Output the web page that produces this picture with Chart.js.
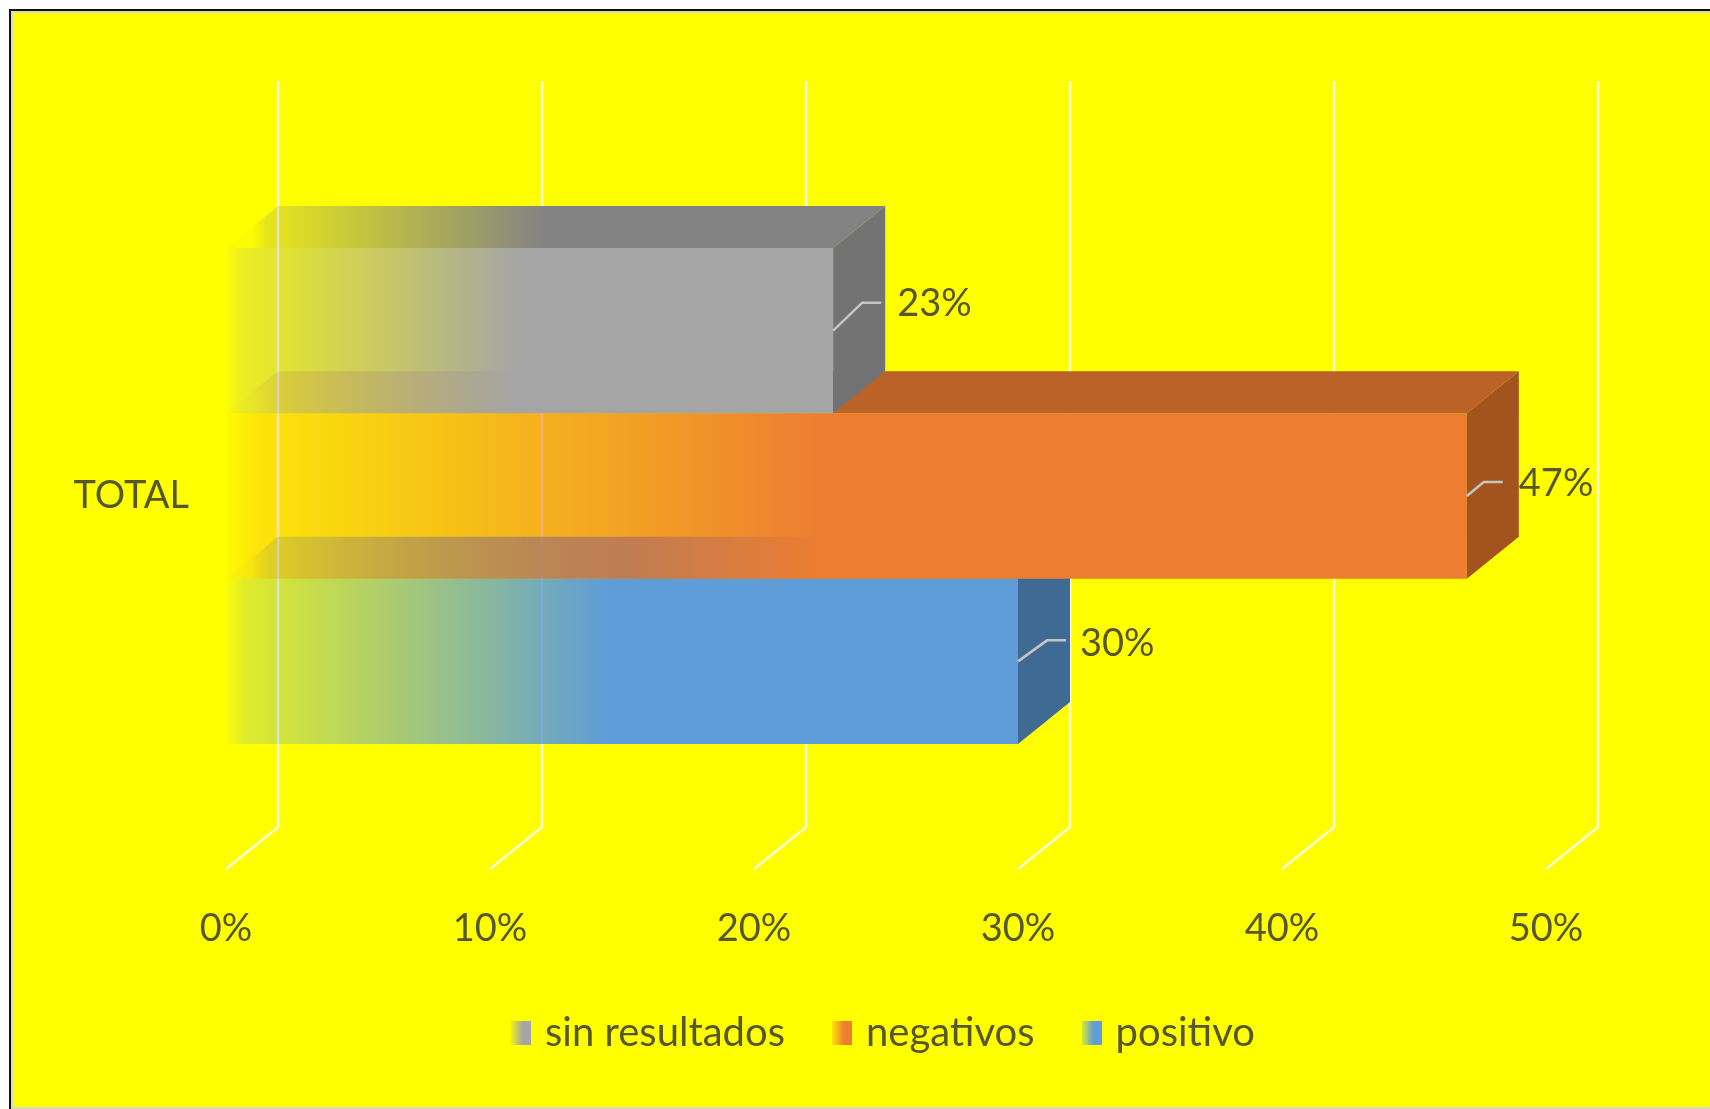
<!DOCTYPE html>
<html>
<head>
<meta charset="utf-8">
<script src="https://cdn.jsdelivr.net/npm/chart.js@4.4.1/dist/chart.umd.min.js"></script>
<style>
  html, body { margin: 0; padding: 0; background: #fff; width: 1710px; height: 1109px; overflow: hidden; }
  #frame {
    position: absolute; left: 9px; top: 9px; width: 1800px; height: 1102px;
    box-sizing: border-box; border: 2px solid #111; background: #ffff00;
    box-shadow: inset 0 0 0 2px #d9d9c4;
  }
  #c { position: absolute; left: 0; top: 0; }
</style>
</head>
<body>
<div id="frame"></div>
<canvas id="c" width="1710" height="1109"></canvas>
<script>
// Data
const categories = ['TOTAL'];
const seriesNames = ['sin resultados', 'negativos', 'positivo'];
const sinResultados = [23];
const negativos = [47];
const positivo = [30];
const xTickValues = [0, 10, 20, 30, 40, 50];

// Look
const FONT = 'Lato';
const TEXT = '#57572a';
const GRID = 'rgba(255,255,228,0.95)';
const LEADER = '#c6c6c0';
const DX = 52, DY = 42;          // depth offset of the 3-D box
const FADE = 0.48;               // share of each bar that fades in from the left

// per-series colours and value-label placement (leader bend dx/dy, text dx/dy)
const palette = [
  { front: '165,165,165', top: '131,131,131', side: '115,115,115', bend: [29, 28], text: [64, 27] },
  { front: '237,125,49',  top: '186,98,40',   side: '163,84,30',   bend: [17, 14], text: [52, 12] },
  { front: '94,157,215',  top: '73,123,170',  side: '62,106,148',  bend: [29, 21], text: [62, 18] }
];

function fadeFill(chart, value, rgb, shift) {
  const xs = chart.scales.x;
  if (!xs || !chart.chartArea) return `rgb(${rgb})`;
  const x0 = xs.getPixelForValue(0) + shift;
  const x1 = xs.getPixelForValue(value * FADE) + shift;
  const g = chart.ctx.createLinearGradient(x0, 0, x1, 0);
  g.addColorStop(0, `rgba(${rgb},0.03)`);
  g.addColorStop(0.05, `rgba(${rgb},0.2)`);
  g.addColorStop(1, `rgba(${rgb},1)`);
  return g;
}

function swatch(rgb) {
  const c = document.createElement('canvas');
  c.width = 20; c.height = 24;
  const g = c.getContext('2d');
  const gr = g.createLinearGradient(0, 0, 20, 0);
  gr.addColorStop(0, `rgba(${rgb},0.2)`);
  gr.addColorStop(0.6, `rgba(${rgb},1)`);
  g.fillStyle = gr;
  g.fillRect(0, 0, 20, 24);
  return c;
}

const depthPlugin = {
  id: 'depth3d',
  beforeDatasetsDraw(chart) {
    const { ctx, chartArea: a, scales: { x } } = chart;
    ctx.save();
    ctx.strokeStyle = GRID;
    ctx.lineWidth = 2.5;
    ctx.lineJoin = 'round';
    x.ticks.forEach(t => {
      const px = x.getPixelForValue(t.value);
      ctx.beginPath();
      ctx.moveTo(px + DX, a.top - DY);
      ctx.lineTo(px + DX, a.bottom - DY);
      ctx.lineTo(px, a.bottom);
      ctx.stroke();
    });
    ctx.restore();
  },
  afterDatasetDraw(chart, args) {
    const st = palette[args.index];
    const ctx = chart.ctx;
    const ds = chart.data.datasets[args.index];
    args.meta.data.forEach((bar, j) => {
      const p = bar.getProps(['x', 'y', 'base', 'height'], true);
      const x0 = p.base, x1 = p.x;
      const yT = p.y - p.height / 2, yB = p.y + p.height / 2;
      ctx.save();
      // top face
      ctx.beginPath();
      ctx.moveTo(x0, yT);
      ctx.lineTo(x1, yT);
      ctx.lineTo(x1 + DX, yT - DY);
      ctx.lineTo(x0 + DX, yT - DY);
      ctx.closePath();
      ctx.fillStyle = fadeFill(chart, ds.data[j], st.top, DX * 0.5);
      ctx.fill();
      // end face
      ctx.beginPath();
      ctx.moveTo(x1, yT);
      ctx.lineTo(x1 + DX, yT - DY);
      ctx.lineTo(x1 + DX, yB - DY);
      ctx.lineTo(x1, yB);
      ctx.closePath();
      ctx.fillStyle = `rgb(${st.side})`;
      ctx.fill();
      ctx.restore();
    });
  },
  afterDatasetsDraw(chart) {
    const ctx = chart.ctx;
    ctx.save();
    ctx.font = `38px ${FONT}`;
    ctx.fillStyle = TEXT;
    ctx.textBaseline = 'middle';
    ctx.textAlign = 'left';
    chart.data.datasets.forEach((ds, i) => {
      const st = palette[i];
      chart.getDatasetMeta(i).data.forEach((bar, j) => {
        const p = bar.getProps(['x', 'y'], true);
        const by = p.y - st.bend[1];
        ctx.strokeStyle = LEADER;
        ctx.lineWidth = 2.5;
        ctx.beginPath();
        ctx.moveTo(p.x, p.y);
        ctx.lineTo(p.x + st.bend[0], by);
        ctx.lineTo(p.x + st.bend[0] + 19, by);
        ctx.stroke();
        ctx.fillText(ds.data[j] + '%', p.x + st.text[0], p.y - st.text[1]);
      });
    });
    ctx.restore();
  }
};

const seriesData = [sinResultados, negativos, positivo];

new Chart(document.getElementById('c'), {
  type: 'bar',
  data: {
    labels: categories,
    datasets: seriesNames.map((name, i) => ({
      label: name,
      data: seriesData[i],
      backgroundColor: ctx => fadeFill(ctx.chart, ctx.raw ?? 0, palette[i].front, 0),
      borderWidth: 0,
      categoryPercentage: 0.665,
      barPercentage: 1
    }))
  },
  options: {
    indexAxis: 'y',
    responsive: false,
    animation: false,
    events: [],
    layout: { padding: { left: 0, top: 123, right: 164, bottom: 46 } },
    scales: {
      x: {
        min: 0, max: 50,
        afterBuildTicks: s => { s.ticks = xTickValues.map(v => ({ value: v })); },
        afterFit: s => { s.height = 91; },
        grid: { display: false },
        border: { display: false },
        ticks: {
          padding: 29,
          color: TEXT,
          font: { family: FONT, size: 38 },
          callback: v => v + '%'
        }
      },
      y: {
        afterFit: s => { s.width = 226; },
        grid: { display: false },
        border: { display: false },
        ticks: {
          padding: 29,
          color: TEXT,
          font: { family: FONT, size: 38 }
        }
      }
    },
    plugins: {
      tooltip: { enabled: false },
      legend: {
        position: 'bottom',
        fullSize: false,
        labels: {
          usePointStyle: true,
          boxWidth: 8,
          padding: 53,
          color: TEXT,
          font: { family: FONT, size: 40 },
          generateLabels: chart => chart.data.datasets.map((ds, i) => ({
            text: ds.label,
            pointStyle: swatch(palette[i].front),
            fillStyle: 'transparent',
            strokeStyle: 'transparent',
            lineWidth: 0,
            hidden: false,
            datasetIndex: i,
            fontColor: TEXT
          }))
        }
      }
    }
  },
  plugins: [depthPlugin]
});
</script>
</body>
</html>
